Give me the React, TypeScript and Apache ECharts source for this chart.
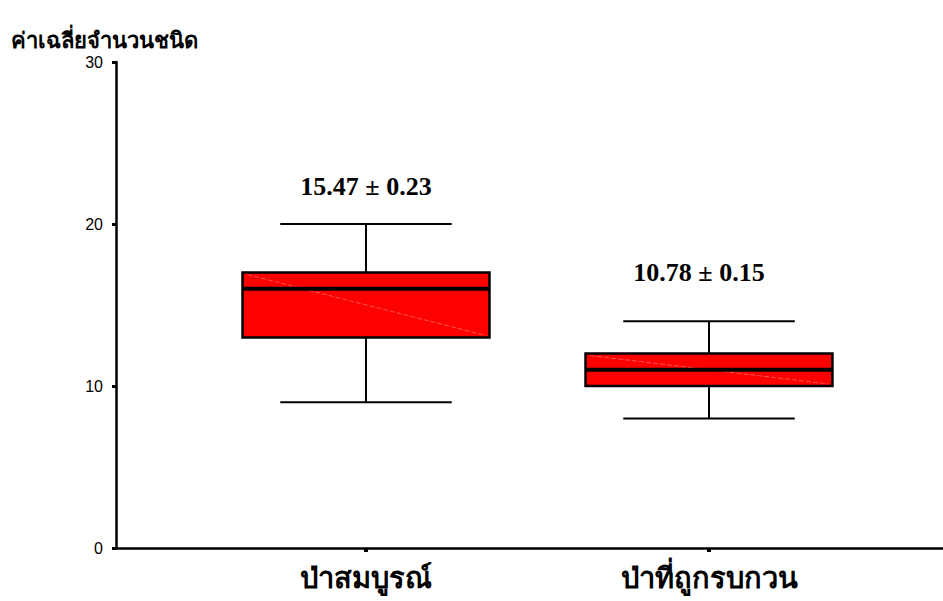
import React, { useEffect, useRef } from 'react';
import * as echarts from 'echarts';

// Box summary per forest type
const categories = ['ป่าสมบูรณ์', 'ป่าที่ถูกรบกวน'];
const whiskerLow = [9, 8];
const q1 = [13, 10];
const median = [16, 11];
const q3 = [17, 12];
const whiskerHigh = [20, 14];
// Mean ± standard error printed above each box
const means = [15.47, 10.78];
const stdErrors = [0.23, 0.15];
const meanLabelY = [22.3, 17.0];
const meanLabelShift = [0, -10];
const yTicks = [0, 10, 20, 30];

const GRID_TOP = 62;
const GRID_BOTTOM = 53;

export default function App() {
  const ref = useRef<HTMLDivElement>(null);

  useEffect(() => {
    if (!ref.current) return;
    const chart = echarts.init(ref.current, null, { renderer: 'svg' });

    const boxData = categories.map((_, i) => [
      i,
      whiskerLow[i],
      q1[i],
      median[i],
      q3[i],
      whiskerHigh[i],
    ]);

    const renderBox = (_params: any, api: any) => {
      const i = api.value(0);
      const band = api.size([1, 0])[0];
      const boxW = band * 0.72;
      const capW = band * 0.5;
      const low = api.coord([i, api.value(1)]);
      const p1 = api.coord([i, api.value(2)]);
      const med = api.coord([i, api.value(3)]);
      const p3 = api.coord([i, api.value(4)]);
      const high = api.coord([i, api.value(5)]);
      const cx = low[0];
      const left = cx - boxW / 2;
      const right = cx + boxW / 2;
      const stroke = { stroke: '#000', lineWidth: 2 };
      return {
        type: 'group',
        children: [
          { type: 'line', shape: { x1: cx, y1: high[1], x2: cx, y2: p3[1] }, style: stroke },
          { type: 'line', shape: { x1: cx, y1: p1[1], x2: cx, y2: low[1] }, style: stroke },
          { type: 'line', shape: { x1: cx - capW / 2, y1: high[1], x2: cx + capW / 2, y2: high[1] }, style: stroke },
          { type: 'line', shape: { x1: cx - capW / 2, y1: low[1], x2: cx + capW / 2, y2: low[1] }, style: stroke },
          {
            type: 'rect',
            shape: { x: left, y: p3[1], width: boxW, height: p1[1] - p3[1] },
            style: { fill: '#ff0000', stroke: '#000', lineWidth: 2.5 },
          },
          {
            type: 'line',
            shape: { x1: left + 5, y1: p3[1] + 2, x2: right - 4, y2: p1[1] - 2 },
            style: { stroke: 'rgba(255,150,150,0.7)', lineWidth: 0.8, lineDash: [5, 2] },
          },
          {
            type: 'line',
            shape: { x1: left, y1: med[1], x2: right, y2: med[1] },
            style: { stroke: '#000', lineWidth: 4 },
          },
        ],
      };
    };

    chart.setOption({
      animation: false,
      backgroundColor: '#fff',
      title: {
        text: 'ค่าเฉลี่ยจำนวนชนิด',
        left: 6,
        top: 24,
        textStyle: {
          fontSize: 22,
          fontWeight: 'bold',
          fontFamily: 'serif',
          color: '#000',
        },
      },
      grid: [
        { left: 116, right: 0, top: GRID_TOP, bottom: GRID_BOTTOM },
        { left: 194.5, right: 62.5, top: GRID_TOP, bottom: GRID_BOTTOM },
      ],
      xAxis: [
        {
          type: 'value',
          gridIndex: 0,
          min: 0,
          max: 1,
          axisLine: { show: true, lineStyle: { color: '#000', width: 2.5 } },
          axisTick: { show: false },
          axisLabel: { show: false },
          splitLine: { show: false },
        },
        {
          type: 'category',
          gridIndex: 1,
          data: categories,
          axisLine: { show: false },
          axisTick: {
            show: true,
            alignWithLabel: true,
            length: 4,
            lineStyle: { color: '#000', width: 4 },
          },
          axisLabel: {
            fontSize: 29,
            fontWeight: 'bold',
            fontFamily: 'serif',
            color: '#000',
            margin: 15,
          },
        },
      ],
      yAxis: [
        {
          type: 'value',
          gridIndex: 0,
          min: yTicks[0],
          max: yTicks[yTicks.length - 1],
          interval: 10,
          axisLine: { show: true, lineStyle: { color: '#000', width: 2.5 } },
          axisTick: { show: true, length: 4, lineStyle: { color: '#000', width: 3 } },
          axisLabel: {
            fontSize: 16,
            fontFamily: 'Liberation Sans',
            color: '#000',
            margin: 13,
          },
          splitLine: { show: false },
        },
        {
          type: 'value',
          gridIndex: 1,
          min: yTicks[0],
          max: yTicks[yTicks.length - 1],
          show: false,
        },
      ],
      series: [
        {
          type: 'custom',
          xAxisIndex: 1,
          yAxisIndex: 1,
          data: boxData,
          encode: { x: 0, y: [1, 2, 3, 4, 5] },
          renderItem: renderBox,
        },
        {
          type: 'scatter',
          xAxisIndex: 1,
          yAxisIndex: 1,
          symbolSize: 0,
          silent: true,
          itemStyle: { opacity: 1 },
          data: categories.map((_, i) => ({
            value: [i, meanLabelY[i]],
            label: { offset: [meanLabelShift[i], 0] },
          })),
          label: {
            show: true,
            position: 'inside',
            formatter: (p: any) =>
              `${means[p.dataIndex].toFixed(2)} ± ${stdErrors[p.dataIndex].toFixed(2)}`,
            fontSize: 26,
            fontWeight: 'bold',
            fontFamily: 'Liberation Serif',
            color: '#000',
            textBorderWidth: 0,
          },
        },
      ],
    });

    return () => chart.dispose();
  }, []);

  return (
    <div
      ref={ref}
      style={{ position: 'absolute', left: 0, top: 0, width: 943, height: 601 }}
    />
  );
}
